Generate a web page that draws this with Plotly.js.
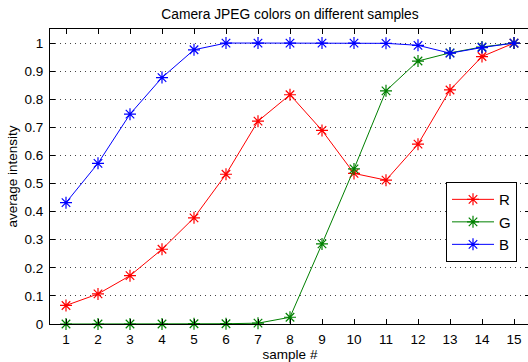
<!DOCTYPE html>
<html>
<head>
<meta charset="utf-8">
<script src="https://cdn.plot.ly/plotly-3.0.1.min.js"></script>
<style>
html,body{margin:0;padding:0;overflow:hidden;background:#fff;width:528px;height:362px;}
#chart{width:532px;height:362px;}
</style>
</head>
<body>
<div id="chart"></div>
<script>
var samples = [1,2,3,4,5,6,7,8,9,10,11,12,13,14,15];
var rValues = [0.066,0.107,0.172,0.266,0.378,0.533,0.722,0.816,0.689,0.536,0.512,0.640,0.833,0.952,1.0];
var gValues = [0.0,0.0,0.0,0.0,0.001,0.001,0.003,0.024,0.285,0.552,0.830,0.936,0.965,0.986,1.0];
var bValues = [0.432,0.572,0.747,0.877,0.976,1.0,1.0,1.0,1.0,1.0,0.999,0.992,0.964,0.984,1.0];
var seriesNames = ['R','G','B'];
var seriesColors = ['#ff0000','#008000','#0000ff'];
var yTicks = [0,0.1,0.2,0.3,0.4,0.5,0.6,0.7,0.8,0.9,1];
var yTickLabels = ['0','0.1','0.2','0.3','0.4','0.5','0.6','0.7','0.8','0.9','1'];

var allValues = [rValues, gValues, bValues];
var traces = allValues.map(function(v, i){
  return {
    x: samples, y: v, name: seriesNames[i], type: 'scatter', mode: 'lines+markers',
    line: {color: seriesColors[i], width: 1},
    marker: {symbol: 'asterisk-open', size: 10, color: seriesColors[i], line: {color: seriesColors[i], width: 1.2}},
    cliponaxis: false
  };
});

var font = 'Liberation Sans, Arial, sans-serif';
var layout = {
  width: 532, height: 362,
  margin: {l: 50, r: 2, t: 29, b: 38},
  paper_bgcolor: '#fff', plot_bgcolor: '#fff',
  font: {family: font, size: 13.5, color: '#000'},
  title: {text: 'Camera JPEG colors on different samples', font: {family: font, size: 13.8, color: '#000'}, x: 0.5, xref: 'paper', xanchor: 'center', y: 1, yref: 'paper', yanchor: 'bottom', pad: {b: 10}},
  showlegend: true,
  legend: {x: 0.825, y: 0.481, xanchor: 'left', yanchor: 'top', bgcolor: '#fff', bordercolor: '#000', borderwidth: 1, font: {family: font, size: 15, color: '#000'}, itemwidth: 42, tracegroupgap: 0},
  xaxis: {
    range: [0.5, 15.5], tickmode: 'array', tickvals: samples, ticktext: samples.map(String),
    ticks: 'inside', ticklen: 5, tickcolor: '#000', showgrid: false, zeroline: false,
    showline: true, linecolor: '#000', linewidth: 1, mirror: 'ticks', ticklabelstandoff: 3,
    tickfont: {family: font, size: 13.5, color: '#000'},
    title: {text: 'sample #', font: {family: font, size: 13.5, color: '#000'}, standoff: 1}
  },
  yaxis: {
    range: [0, 1.05], tickmode: 'array', tickvals: yTicks, ticktext: yTickLabels,
    ticks: 'inside', ticklen: 5, tickcolor: '#000', showgrid: true, gridcolor: '#444', griddash: '1px,4px', gridwidth: 1,
    zeroline: false, showline: true, linecolor: '#000', linewidth: 1, mirror: 'ticks', ticklabelstandoff: 3,
    tickfont: {family: font, size: 13.5, color: '#000'},
    title: {text: 'average intensity', font: {family: font, size: 13.5, color: '#000'}, standoff: 3}
  }
};
Plotly.newPlot('chart', traces, layout, {displayModeBar: false, staticPlot: true});
</script>
</body>
</html>
